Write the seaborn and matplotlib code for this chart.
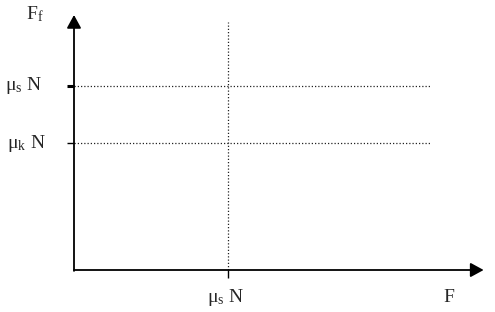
import matplotlib
matplotlib.use("Agg")
import matplotlib.pyplot as plt
import seaborn as sns
import pandas as pd

# Data (diagram levels, in units of the static threshold)
force_threshold = 1.0          # F = mu_s N on the x axis
static_level = 1.0             # mu_s N
kinetic_level = 0.69           # mu_k N
line_end_x = 2.32              # horizontal dotted lines end
vline_top = 1.35               # vertical dotted line top
y_labels = [r"$\mathrm{μ_s\;N}$", r"$\mathrm{μ_k\;N}$"]
x_label_tick = r"$\mathrm{μ_s\;N}$"
x_axis_label = "F"
y_axis_label = r"$\mathrm{F_f}$"

sns.set_theme(style="white")
plt.rcParams["font.family"] = ["Liberation Serif", "DejaVu Serif"]
plt.rcParams["mathtext.fontset"] = "custom"
plt.rcParams["mathtext.rm"] = "Liberation Serif"

fig = plt.figure(figsize=(4.95, 3.12), dpi=100)
ax = fig.add_axes([0, 0, 1, 1])
ax.set_xlim(-74 / 154, (495 - 74) / 154)
ax.set_ylim(-(312 - 270) / 184, 270 / 184)
ax.axis("off")

dot = (0, (1, 1.6))
# horizontal dotted lines
for lvl in [static_level, kinetic_level]:
    df = pd.DataFrame({"x": [0, line_end_x], "y": [lvl, lvl]})
    sns.lineplot(data=df, x="x", y="y", ax=ax, color="#222222", lw=0.9,
                 linestyle=dot, legend=False)
# vertical dotted line
dfv = pd.DataFrame({"x": [force_threshold, force_threshold], "y": [0, vline_top]})
sns.lineplot(data=dfv, x="x", y="y", ax=ax, color="#222222", lw=0.9,
             linestyle=dot, legend=False, orient="y")

# axes with arrows
ax.annotate("", xy=(2.66, 0), xytext=(0, 0),
            arrowprops=dict(arrowstyle="-|>,head_length=0.66,head_width=0.36",
                            color="black", lw=1.3,
                            mutation_scale=12, shrinkA=0, shrinkB=0))
ax.annotate("", xy=(0, 1.386), xytext=(0, -0.005),
            arrowprops=dict(arrowstyle="-|>,head_length=0.66,head_width=0.36",
                            color="black", lw=1.3,
                            mutation_scale=12, shrinkA=0, shrinkB=0))

# ticks
ax.plot([-7 / 154, 0], [static_level, static_level], color="black", lw=2.2,
        solid_capstyle="butt")
ax.plot([-7 / 154, 0], [kinetic_level, kinetic_level], color="black", lw=1.0,
        solid_capstyle="butt")
ax.plot([force_threshold, force_threshold], [0, -8 / 184], color="black", lw=1.0,
        solid_capstyle="butt")

# labels
fs = 14
ax.text((42 - 74) / 154, static_level, y_labels[0], ha="right", va="center", fontsize=fs)
ax.text((46 - 74) / 154, kinetic_level, y_labels[1], ha="right", va="center", fontsize=fs)
ax.text(force_threshold - 2 / 154, -27 / 184, x_label_tick, ha="center",
        va="center", fontsize=fs)
ax.text((449 - 74) / 154, -27 / 184, x_axis_label, ha="center", va="center",
        fontsize=fs)
ax.text((35 - 74) / 154, (270 - 14) / 184, y_axis_label, ha="center",
        va="center", fontsize=fs)

fig.savefig("out.png", dpi=100)
